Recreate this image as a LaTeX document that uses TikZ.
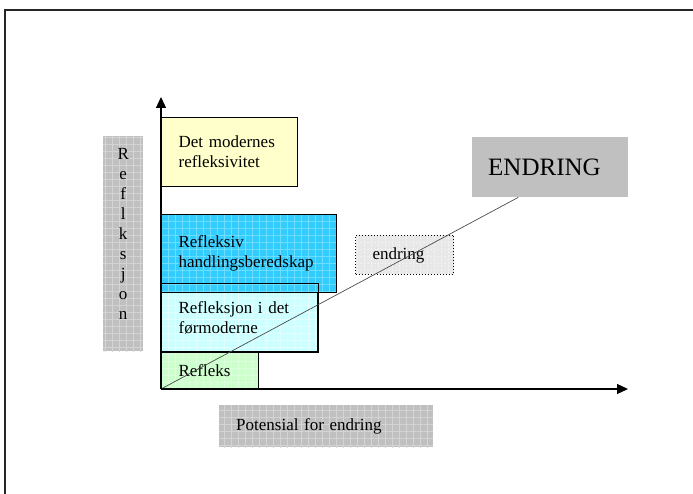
\documentclass[tikz,border=0pt]{standalone}
\usepackage{fontspec}
\setmainfont{Liberation Serif}
\usepackage{tikz}
\usetikzlibrary{arrows.meta,positioning,patterns.meta}

\definecolor{gulfelt}{RGB}{255,255,204}
\definecolor{blaafelt}{RGB}{51,204,255}
\definecolor{blaarute}{RGB}{110,222,255}
\definecolor{cyanfelt}{RGB}{204,255,255}
\definecolor{cyanrute}{RGB}{225,255,255}
\definecolor{gronnfelt}{RGB}{204,255,204}
\definecolor{gronnrute}{RGB}{222,255,222}
\definecolor{graafelt}{RGB}{192,192,192}
\definecolor{graarute}{RGB}{212,212,212}
\definecolor{lysgraa}{RGB}{232,232,232}
\definecolor{lysrute}{RGB}{244,244,244}

\newcommand\tekst{\fontsize{17}{20}\selectfont}

\begin{document}
\begin{tikzpicture}[
  x=1pt, y=-1pt,
  bunn/.style={preaction={fill=#1}},
  felt/.style={draw, line width=1.2pt, anchor=north west, align=left,
               inner xsep=17pt, inner ysep=0pt, font=\tekst, bunn=#1},
  rute/.style={preaction={pattern={Hatch[angle=0,distance=7pt,line width=0.5pt]},
               pattern color=#1}},
  akse/.style={-{Triangle[length=11pt,width=10pt]}, line width=1.2pt},
]
\useasboundingbox (0,0) rectangle (693,494);
% Ramme
\draw[line width=1.5pt, black!85] (5,494) -- (5,10) -- (693,10);
% Felter
\node[felt=gronnfelt, rute=gronnrute, text width=63pt, minimum height=38pt]
      (refleks)    at (161,351) {Refleks};
\node[felt=cyanfelt, rute=cyanrute, text width=122pt, minimum height=68pt]
      (formoderne) at (161,283) {Refleksjon i det\\førmoderne};
\node[felt=blaafelt, rute=blaarute, text width=141pt, minimum height=78pt]
      (handling)   at (161,214) {Refleksiv\\handlingsberedskap};
\draw[line width=0.8pt] (formoderne.north west) rectangle (formoderne.south east);
\node[felt=gulfelt, text width=102pt, minimum height=69pt]
      (moderne)    at (161,117) {Det modernes\\refleksivitet};
% Aksetitler
\node[bunn=graafelt, rute=graarute, anchor=north west, minimum width=40pt,
      minimum height=215pt, align=center, inner sep=0pt,
      font=\fontsize{17}{20}\selectfont]
      (refleksjon) at (103,136) {R\\e\\f\\l\\k\\s\\j\\o\\n\\[0pt]};
\node[bunn=graafelt, rute=graarute, anchor=north west, minimum width=214pt,
      minimum height=42pt, align=left, inner xsep=17pt, font=\tekst,
      text width=180pt]
      (potensial)  at (219,405) {Potensial for endring};
% Endring
\node[draw, dotted, line width=1pt, bunn=lysgraa, rute=lysrute, anchor=north west,
      minimum width=98pt, minimum height=39pt, align=left, inner xsep=17pt,
      text width=64pt, font=\tekst]
      (endringLiten) at (355,235) {endring};
\node[fill=graafelt, anchor=north west, minimum width=156pt, minimum height=60pt,
      align=left, inner xsep=16pt, text width=124pt,
      font=\fontsize{25}{28}\selectfont]
      (endringStor)  at (472,137) {ENDRING\\[6pt]};
% Akser og diagonal
\coordinate (o)    at (161,389);
\coordinate (ytop) at (161,97);
\coordinate (xend) at (628,389);
\draw[gray!60!black, line width=0.7pt] (o) -- ([xshift=-32pt]endringStor.south);
\draw[akse] (o) -- (ytop);
\draw[akse] (o) -- (xend);
\end{tikzpicture}
\end{document}
